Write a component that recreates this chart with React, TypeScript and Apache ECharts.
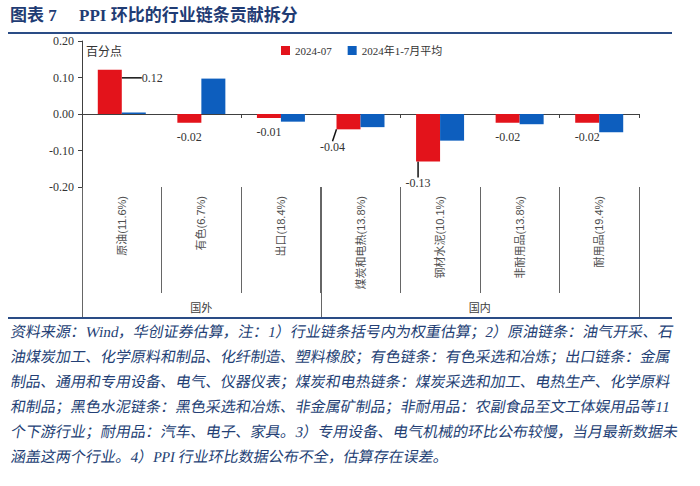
import React, { useEffect, useRef } from 'react';
import * as echarts from 'echarts';

const categories = ['原油(11.6%)', '有色(6.7%)', '出口(18.4%)', '煤炭和电热(13.8%)', '钢材水泥(10.1%)', '非耐用品(13.8%)', '耐用品(19.4%)'];
const seriesRedName = '2024-07';
const seriesBlueName = '2024年1-7月平均';
const julyValues = [0.121, -0.024, -0.011, -0.042, -0.13, -0.024, -0.024];
const avgValues = [0.004, 0.097, -0.021, -0.036, -0.073, -0.028, -0.05];
const groupNames = ['国外', '国内'];
const groupSizes = [3, 4];
const yMin = -0.2;
const yMax = 0.2;
const yStep = 0.1;
const unitLabel = '百分点';
const titleLabel = '图表 7';
const titleText = 'PPI 环比的行业链条贡献拆分';
const noteLines = [
  '资料来源：Wind，华创证券估算，注：1）行业链条括号内为权重估算；2）原油链条：油气开采、石',
  '油煤炭加工、化学原料和制品、化纤制造、塑料橡胶；有色链条：有色采选和冶炼；出口链条：金属',
  '制品、通用和专用设备、电气、仪器仪表；煤炭和电热链条：煤炭采选和加工、电热生产、化学原料',
  '和制品；黑色水泥链条：黑色采选和冶炼、非金属矿制品；非耐用品：农副食品至文工体娱用品等11',
  '个下游行业；耐用品：汽车、电子、家具。3）专用设备、电气机械的环比公布较慢，当月最新数据未',
  '涵盖这两个行业。4）PPI 行业环比数据公布不全，估算存在误差。',
];

const RED = '#E3131B';
const BLUE = '#0D5EBE';
const NAVY = '#1F3C74';
const SERIF = "'Liberation Serif', 'Times New Roman', 'Noto Sans CJK SC', serif";
const SANS = "'Liberation Sans', 'Noto Sans CJK SC', sans-serif";
const CJK = "'Noto Sans CJK SC', sans-serif";

export default function App() {
  const ref = useRef<HTMLDivElement>(null);

  useEffect(() => {
    if (!ref.current) return;
    const chart = echarts.init(ref.current, undefined, { renderer: 'svg' });
    const leaderIdx = [0, 3, 4];

    chart.setOption({
      animation: false,
      backgroundColor: '#ffffff',
      grid: { left: 82, right: 61, top: 41, bottom: 299, containLabel: false },
      legend: {
        left: 281,
        top: 45,
        padding: 0,
        itemWidth: 9,
        itemHeight: 9,
        itemGap: 16,
        icon: 'rect',
        textStyle: { fontSize: 11, color: '#333', fontFamily: SERIF },
        data: [seriesRedName, seriesBlueName],
      },
      xAxis: [
        {
          type: 'category',
          data: categories,
          position: 'top',
          axisLine: { show: true, onZero: true, lineStyle: { color: '#404040', width: 1 } },
          axisTick: { show: true, inside: true, length: 4, lineStyle: { color: '#404040' } },
          axisLabel: { show: false },
          splitLine: { show: false },
        },
        {
          type: 'category',
          data: categories,
          position: 'bottom',
          axisLine: { show: false, onZero: false },
          axisTick: { show: true, length: 106, lineStyle: { color: '#666' } },
          axisLabel: { rotate: 90, margin: 9, fontSize: 11, color: '#505050', fontFamily: SANS },
          splitLine: { show: false },
        },
      ],
      yAxis: {
        type: 'value',
        min: yMin,
        max: yMax,
        interval: yStep,
        axisLine: { show: true, lineStyle: { color: '#404040' } },
        axisTick: { show: true, length: 4, lineStyle: { color: '#404040' } },
        splitLine: { show: false },
        axisLabel: {
          formatter: (v: number) => v.toFixed(2),
          fontSize: 12,
          color: '#333',
          fontFamily: SERIF,
          margin: 8,
        },
      },
      series: [
        {
          name: seriesRedName,
          type: 'bar',
          xAxisIndex: 0,
          barWidth: 24,
          barGap: '0%',
          itemStyle: { color: RED },
          data: julyValues.map((v, i) => ({ value: v, labelLine: { show: leaderIdx.includes(i) } })),
          label: {
            show: true,
            position: 'outside',
            distance: 8,
            fontSize: 12,
            color: '#333',
            fontFamily: SERIF,
            formatter: (p: any) => Number(p.value).toFixed(2),
          },
          labelLine: { show: false, lineStyle: { color: '#111', width: 1.5 } },
          labelLayout: (p: any) => {
            const r = p.rect;
            if (p.dataIndex === 0) return { x: r.x + r.width + 20, y: r.y + 8, align: 'left', verticalAlign: 'middle' };
            if (p.dataIndex === 3) return { x: r.x - 4, y: r.y + r.height + 18, align: 'center', verticalAlign: 'middle' };
            if (p.dataIndex === 4) return { x: r.x + 2, y: r.y + r.height + 22, align: 'center', verticalAlign: 'middle' };
            return {};
          },
        },
        {
          name: seriesBlueName,
          type: 'bar',
          xAxisIndex: 0,
          barWidth: 24,
          barGap: '0%',
          itemStyle: { color: BLUE },
          data: avgValues,
        },
      ],
    });

    const c0 = chart.convertToPixel({ xAxisIndex: 0 }, categories[0]) as number;
    const c1 = chart.convertToPixel({ xAxisIndex: 0 }, categories[1]) as number;
    const band = c1 - c0;
    const leftEdge = c0 - band / 2;
    const yBottom = chart.convertToPixel({ yAxisIndex: 0 }, yMin) as number;
    const footerLineY = 318;

    const dynamic: any[] = [];
    let start = 0;
    const bounds = [0];
    groupSizes.forEach((s) => {
      start += s;
      bounds.push(start);
    });
    bounds.forEach((b) => {
      const x = Math.round(leftEdge + b * band) + 0.5;
      dynamic.push({
        type: 'line',
        shape: { x1: x, y1: yBottom, x2: x, y2: footerLineY - 1 },
        style: { stroke: '#666', lineWidth: 1 },
      });
    });
    let acc = 0;
    groupNames.forEach((g, i) => {
      const cx = leftEdge + (acc + groupSizes[i] / 2) * band;
      acc += groupSizes[i];
      dynamic.push({
        type: 'text',
        x: cx,
        y: 307,
        style: { text: g, fontSize: 11, fill: '#404040', fontFamily: CJK, align: 'center', verticalAlign: 'middle' },
      });
    });

    const staticEls: any[] = [
      {
        type: 'text',
        x: 10,
        y: 15,
        style: { text: titleLabel, fontSize: 17, fontWeight: 'bold', fill: NAVY, fontFamily: SERIF, verticalAlign: 'middle' },
      },
      {
        type: 'text',
        x: 79,
        y: 15,
        style: { text: titleText, fontSize: 17, fontWeight: 'bold', fill: NAVY, fontFamily: SERIF, verticalAlign: 'middle' },
      },
      {
        type: 'line',
        shape: { x1: 8, y1: 33, x2: 672, y2: 33 },
        style: { stroke: '#2A4C86', lineWidth: 2 },
      },
      {
        type: 'line',
        shape: { x1: 8, y1: footerLineY, x2: 672, y2: footerLineY },
        style: { stroke: '#2A4C86', lineWidth: 2 },
      },
      {
        type: 'text',
        x: 86,
        y: 50,
        style: { text: unitLabel, fontSize: 12, fill: '#333', fontFamily: CJK, verticalAlign: 'middle' },
      },
      ...noteLines.map((t, i) => ({
        type: 'text',
        x: 11,
        y: 332 + i * 25.1,
        skewX: -0.18,
        style: {
          text: t,
          fontSize: 15,
          fill: '#243F75',
          fontFamily: "'Liberation Serif', 'Noto Sans CJK SC', serif",
          verticalAlign: 'middle',
        },
      })),
    ];

    chart.setOption({ graphic: [...staticEls, ...dynamic] });

    return () => chart.dispose();
  }, []);

  return (
    <div
      ref={ref}
      style={{ position: 'fixed', left: 0, top: 0, width: 700, height: 486, background: '#fff' }}
    />
  );
}
